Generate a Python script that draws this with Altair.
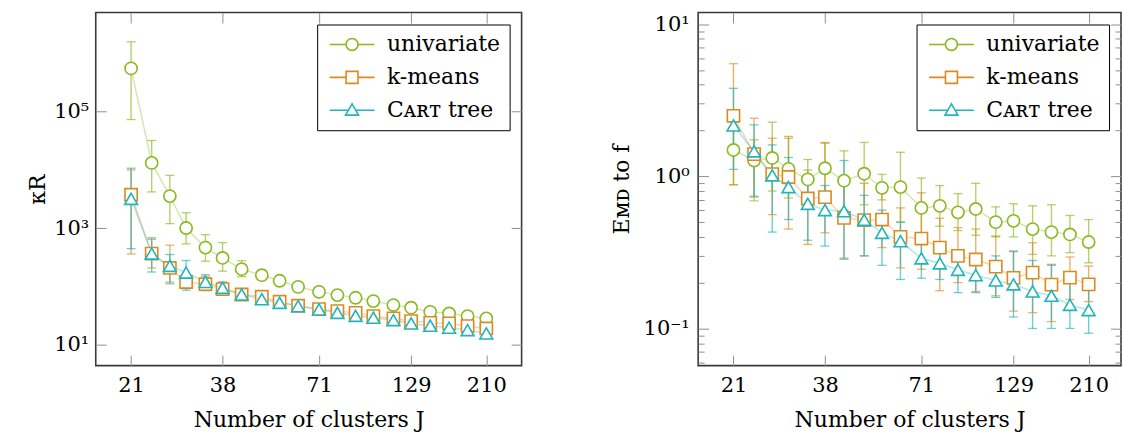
import altair as alt
import pandas as pd

# ---------------- data ----------------
J = [21, 24, 27, 30, 34, 38, 43, 49, 55, 62, 71, 80, 90, 101, 115, 129, 146, 165, 186, 210]
x_ticks = [21, 38, 71, 129, 210]
series = ["univariate", "k-means", "Cᴀʀᴛ tree"]
colors = ["#8ab81e", "#db8b1e", "#20b4bc"]

# left panel: kappa_R
kap_uni = [5.5e5, 1.32e4, 3.56e3, 1010, 467, 310, 199, 157, 126, 99, 81.5, 71.6, 64.4, 56.5, 48.3, 43.5, 37, 34.7, 31.3, 28.5]
kap_uni_lo = [7.3e4, 4.2e3, 1.2e3, 540, 273, 184, 148, 130, 110, 88, 72, 64, 58, 51, 44, 40, 34, 32, 29, 26.5]
kap_uni_hi = [1.57e6, 3.2e4, 8.05e3, 1850, 776, 568, 279, 190, 145, 112, 92, 80, 71, 62, 53, 47, 40, 37.5, 34, 30.5]

kap_km = [3750, 368, 209, 120, 110, 90.6, 73.3, 67, 55, 47, 41.2, 38, 35.6, 31.3, 28.5, 25.7, 24, 23.4, 21.1, 19.2]
kap_km_lo = [363, 209, 120, 100, 85, 72, 62, 58, 48, 42, 37, 34, 32, 28.5, 26, 23.5, 22, 21.5, 19.5, 17.5]
kap_km_hi = [1.0e4, 646, 513, 150, 150, 118, 88, 78, 63, 53, 46, 42, 39, 34.5, 31.5, 28, 26, 25.5, 23, 21]

kap_ct = [3200, 368, 227, 174, 120, 95.5, 73.3, 61, 52.8, 46.3, 40.6, 35.6, 31.6, 29.3, 26.7, 23.4, 21.4, 19.8, 18, 15.8]
kap_ct_lo = [447, 178, 112, 87, 88, 76, 58, 52, 46, 41, 35, 32, 28, 26.5, 24.5, 21.5, 19.5, 18, 16.5, 14.5]
kap_ct_hi = [1.07e4, 686, 355, 280, 160, 120, 92, 72, 60, 52, 46, 40, 35, 32, 29, 25.5, 23.5, 21.5, 19.5, 17]

# right panel: EMD to f
emd_uni = [1.49, 1.27, 1.32, 1.12, 0.955, 1.13, 0.937, 1.04, 0.84, 0.85, 0.62, 0.64, 0.58, 0.61, 0.50, 0.51, 0.45, 0.43, 0.415, 0.37]
emd_uni_lo = [0.88, 0.69, 0.80, 0.72, 0.71, 0.75, 0.60, 0.65, 0.70, 0.50, 0.40, 0.47, 0.44, 0.41, 0.40, 0.40, 0.307, 0.30, 0.315, 0.27]
emd_uni_hi = [2.52, 1.74, 2.27, 1.78, 1.29, 1.65, 1.47, 1.67, 1.03, 1.44, 0.975, 0.87, 0.77, 0.90, 0.63, 0.66, 0.64, 0.65, 0.553, 0.52]

emd_km = [2.50, 1.40, 1.035, 0.99, 0.715, 0.73, 0.533, 0.515, 0.52, 0.40, 0.39, 0.34, 0.30, 0.284, 0.255, 0.215, 0.233, 0.194, 0.216, 0.195]
emd_km_lo = [0.88, 0.73, 0.56, 0.45, 0.357, 0.425, 0.29, 0.30, 0.34, 0.25, 0.245, 0.177, 0.20, 0.175, 0.164, 0.13, 0.127, 0.111, 0.155, 0.15]
emd_km_hi = [5.5, 2.41, 1.78, 1.83, 1.10, 1.67, 0.95, 0.90, 0.80, 0.62, 0.78, 0.53, 0.46, 0.45, 0.405, 0.32, 0.366, 0.264, 0.295, 0.257]

emd_ct = [2.16, 1.46, 1.015, 0.85, 0.66, 0.60, 0.59, 0.518, 0.425, 0.375, 0.289, 0.268, 0.243, 0.224, 0.207, 0.195, 0.175, 0.164, 0.143, 0.132]
emd_ct_lo = [1.11, 0.74, 0.43, 0.52, 0.38, 0.348, 0.285, 0.30, 0.26, 0.21, 0.214, 0.21, 0.172, 0.172, 0.16, 0.119, 0.10, 0.10, 0.10, 0.093]
emd_ct_hi = [3.79, 2.18, 1.61, 1.33, 1.0, 0.87, 1.27, 0.75, 0.6, 0.5, 0.4, 0.35, 0.32, 0.28, 0.3, 0.323, 0.28, 0.26, 0.2, 0.185]

kap_major = [10, 1e3, 1e5]
emd_major = [0.1, 1, 10]
emd_minor = [0.06, 0.07, 0.08, 0.09, 0.2, 0.3, 0.4, 0.5, 0.6, 0.7, 0.8, 0.9,
             2, 3, 4, 5, 6, 7, 8, 9]


def long_df(vals, los, his):
    rows = []
    for s, v, lo, hi in zip(series, vals, los, his):
        for j, a, b, c in zip(J, v, lo, hi):
            rows.append({"J": j, "series": s, "val": a, "lo": b, "hi": c})
    return pd.DataFrame(rows)


df_kap = long_df([kap_uni, kap_km, kap_ct], [kap_uni_lo, kap_km_lo, kap_ct_lo], [kap_uni_hi, kap_km_hi, kap_ct_hi])
df_emd = long_df([emd_uni, emd_km, emd_ct], [emd_uni_lo, emd_km_lo, emd_ct_lo], [emd_uni_hi, emd_km_hi, emd_ct_hi])

# ---------------- style ----------------
FONT = "DejaVu Serif"
TICK = "#8f8f8f"
MAJ = 10.5
MIN = 6

leg_paths = [
    "M-3.46,0H-0.92M0.92,0H3.46M0.92,0A0.92,0.92,0,1,1,-0.92,0A0.92,0.92,0,1,1,0.92,0Z",
    "M-3.46,0H-0.92M0.92,0H3.46M-0.92,-0.92H0.92V0.92H-0.92Z",
    "M-3.46,0H-0.57M0.57,0H3.46M0,-1.0L1.0,0.75L-1.0,0.75Z",
]


def tick_axis(orient, values, length):
    return alt.Axis(orient=orient, values=values, offset=-length, tickSize=length,
                    tickColor=TICK, tickWidth=1, labels=False, domain=False,
                    grid=False, title=None)


def panel(df, xdom, ydom, ymajor, yminor, label_expr, ytitle, W, H, ylabpad, ytitlepad):
    xs = alt.Scale(type="log", domain=xdom, nice=False)
    ys = alt.Scale(type="log", domain=ydom, nice=False)
    cs = alt.Scale(domain=series, range=colors)
    base = alt.Chart(df)

    x_main = alt.Axis(orient="bottom", values=x_ticks, format="d", offset=-MAJ, tickSize=MAJ,
                      tickColor=TICK, tickWidth=1, domain=False, grid=False,
                      labelPadding=9, labelFont=FONT, labelFontSize=21, labelColor="black",
                      labelFlush=False, labelOverlap=False,
                      title="Number of clusters J", titleFont=FONT, titleFontSize=22,
                      titleFontWeight="normal", titleColor="black", titlePadding=14)
    y_main = alt.Axis(orient="left", values=ymajor, labelExpr=label_expr, offset=-MAJ, tickSize=MAJ,
                      tickColor=TICK, tickWidth=1, domain=False, grid=False,
                      labelPadding=ylabpad, labelFont=FONT, labelFontSize=21, labelColor="black",
                      labelFlush=False, labelOverlap=False,
                      title=ytitle, titleFont=FONT, titleFontSize=22,
                      titleFontWeight="normal", titleColor="black", titlePadding=ytitlepad)

    def X(axis):
        return alt.X("J:Q", scale=xs, axis=axis)

    def Y(field, axis):
        return alt.Y(field + ":Q", scale=ys, axis=axis)

    def S():
        return alt.Stroke("series:N", scale=cs, legend=None)

    def F():
        return alt.Fill("series:N", scale=cs, legend=None)

    rules = base.mark_rule(strokeWidth=1.4, opacity=0.65).encode(
        x=X(x_main), y=Y("lo", y_main), y2="hi:Q", stroke=S())
    cap_lo = base.mark_tick(orient="horizontal", size=9, thickness=1.3, opacity=0.65).encode(
        x=X(tick_axis("top", x_ticks, MAJ)), y=Y("lo", tick_axis("right", ymajor, MAJ)), fill=F())
    cap_hi = base.mark_tick(orient="horizontal", size=9, thickness=1.3, opacity=0.65).encode(
        x=X(None), y=Y("hi", tick_axis("left", yminor, MIN) if yminor else None), fill=F())
    lines = base.mark_line(strokeWidth=1.5, opacity=0.35).encode(
        x=X(None), y=Y("val", tick_axis("right", yminor, MIN) if yminor else None), stroke=S())

    pts = []
    for s, shp, sz in zip(series, ["circle", "square", "triangle-up"], [150, 150, 165]):
        pts.append(base.transform_filter(alt.datum.series == s).mark_point(
            shape=shp, size=sz, filled=False, fill="white", strokeWidth=1.6, opacity=1).encode(
            x=X(None), y=Y("val", None), stroke=S()))

    def leg():
        return alt.Legend(title=None, orient="top-right", offset=12, padding=9,
                          strokeColor="black", fillColor="white", cornerRadius=0,
                          labelFont=FONT, labelFontSize=22, labelColor="black", labelLimit=400,
                          symbolSize=169, symbolStrokeWidth=1.6, symbolOffset=15,
                          symbolOpacity=1, labelOffset=24, rowPadding=11)

    legend_layer = base.mark_point(size=169, filled=False, strokeWidth=1.6, opacity=0).encode(
        x=X(None), y=Y("val", None),
        color=alt.Color("series:N", scale=cs, legend=leg()),
        shape=alt.Shape("series:N", scale=alt.Scale(domain=series, range=leg_paths), legend=leg()))

    return alt.layer(rules, cap_lo, cap_hi, lines, *pts, legend_layer).resolve_axis(
        x="independent", y="independent").properties(width=W, height=H)


left = panel(df_kap, [16.7, 264], [4.43, 4.98e6], kap_major, None,
             "datum.value > 5e4 ? '10⁵' : datum.value > 500 ? '10³' : '10¹'",
             "κR", 427, 354, 7, 4)
right = panel(df_emd, [16.7, 259], [0.057, 11.93], emd_major, emd_minor,
              "datum.value > 5 ? '10¹' : datum.value > 0.5 ? '10⁰' : '10⁻¹'",
              "Eᴍᴅ to f", 424, 354, 9, 10)

chart = alt.hconcat(left, right, spacing=85).resolve_scale(
    color="independent", shape="independent").resolve_legend(
    color="independent", shape="independent").properties(
    padding={"left": 26, "top": 10, "right": 0, "bottom": 0},
    background="white").configure_view(stroke="#3a3a3a", strokeWidth=1.6)

chart.save("out.html", embed_options={"renderer": "svg", "actions": False})
